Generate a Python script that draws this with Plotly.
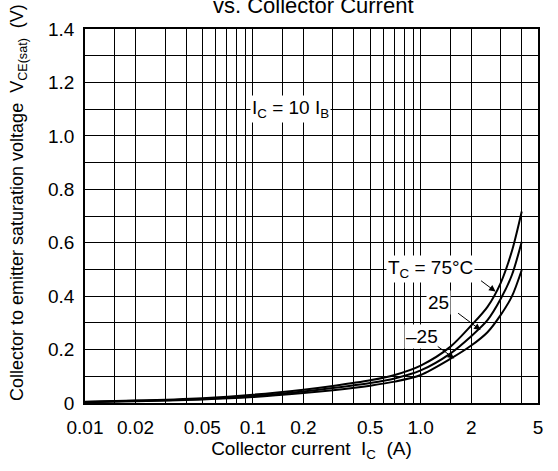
import plotly.graph_objects as go

# Collector current (A)
current = [0.01, 0.02, 0.05, 0.1, 0.2, 0.3, 0.5, 0.7, 1.0, 1.5, 2.0, 2.5, 3.0, 3.5, 4.0]
# VCE(sat) (V) for each case temperature
v_75 = [0.005, 0.009, 0.018, 0.031, 0.050, 0.064, 0.085, 0.105, 0.140, 0.210, 0.290, 0.360, 0.450, 0.570, 0.717]
v_25 = [0.004, 0.008, 0.015, 0.026, 0.043, 0.056, 0.075, 0.092, 0.122, 0.185, 0.250, 0.310, 0.390, 0.480, 0.604]
v_m25 = [0.003, 0.007, 0.013, 0.022, 0.037, 0.048, 0.065, 0.080, 0.105, 0.165, 0.215, 0.265, 0.330, 0.400, 0.498]

x_grid = [0.01, 0.015, 0.02, 0.03, 0.04, 0.05, 0.06, 0.07, 0.08, 0.09,
          0.1, 0.15, 0.2, 0.3, 0.4, 0.5, 0.6, 0.7, 0.8, 0.9,
          1.0, 1.5, 2, 3, 4, 5]
x_labels = {0.01: "0.01", 0.02: "0.02", 0.05: "0.05", 0.1: "0.1", 0.2: "0.2",
            0.5: "0.5", 1.0: "1.0", 2: "2", 5: "5"}
y_grid = [0, 0.1, 0.2, 0.3, 0.4, 0.5, 0.6, 0.7, 0.8, 0.9, 1.0, 1.1, 1.2, 1.3, 1.4]
y_labels = {0: "0", 0.2: "0.2", 0.4: "0.4", 0.6: "0.6", 0.8: "0.8", 1.0: "1.0", 1.2: "1.2", 1.4: "1.4"}

FONT = "Liberation Sans, Arial, sans-serif"
FS = 19

fig = go.Figure()
for ys in (v_75, v_25, v_m25):
    fig.add_trace(go.Scatter(x=current, y=ys, mode="lines",
                             line=dict(color="black", width=2, shape="spline", smoothing=0.8),
                             showlegend=False, hoverinfo="skip"))

fig.update_xaxes(type="log", range=[-2, 0.69897], automargin=False,
                 tickvals=x_grid, ticktext=[x_labels.get(v, "") for v in x_grid],
                 showgrid=True, gridcolor="black", gridwidth=1,
                 showline=True, linecolor="black", linewidth=1.5, mirror=True,
                 ticks="", zeroline=False, ticklabelstandoff=6,
                 title=dict(text="Collector current  I<sub>C</sub>  (A)", standoff=4,
                            font=dict(size=FS, color="black", family=FONT)),
                 tickfont=dict(size=FS, color="black", family=FONT))
fig.update_yaxes(range=[0, 1.4], automargin=False,
                 tickvals=y_grid, ticktext=[y_labels.get(v, "") for v in y_grid],
                 showgrid=True, gridcolor="black", gridwidth=1,
                 showline=True, linecolor="black", linewidth=1.5, mirror=True,
                 ticks="", zeroline=False, ticklabelstandoff=5,
                 tickfont=dict(size=FS, color="black", family=FONT))

txt = dict(size=FS, color="black", family=FONT)
annotations = [
    dict(x=-0.775, y=1.1, xref="x", yref="y", text="I<sub>C</sub> = 10 I<sub>B</sub>",
         showarrow=False, bgcolor="white", font=txt, borderpad=1),
    dict(x=0.057, y=0.5, xref="x", yref="y", text="T<sub>C</sub> = 75°C",
         showarrow=False, bgcolor="white", font=txt, borderpad=1),
    dict(x=0.108, y=0.375, xref="x", yref="y", text="25",
         showarrow=False, bgcolor="white", font=txt, borderpad=1),
    dict(x=0.009, y=0.25, xref="x", yref="y", text="\u201325",
         showarrow=False, bgcolor="white", font=txt, borderpad=1),
    # arrows
    dict(x=0.446, y=0.417, xref="x", yref="y", text="", showarrow=True,
         ax=-16, ay=-12, arrowhead=2, arrowsize=1.3, arrowwidth=1, arrowcolor="black"),
    dict(x=0.357, y=0.273, xref="x", yref="y", text="", showarrow=True,
         ax=-24, ay=-18, arrowhead=2, arrowsize=1.3, arrowwidth=1, arrowcolor="black"),
    dict(x=0.200, y=0.167, xref="x", yref="y", text="", showarrow=True,
         ax=-18, ay=-13, arrowhead=2, arrowsize=1.3, arrowwidth=1, arrowcolor="black"),
    # y-axis title
    dict(x=(18 - 85) / 453, y=(403 - 203) / 374, xref="paper", yref="paper", textangle=-90,
         text="Collector to emitter saturation voltage  V<sub>CE(sat)</sub>  (V)",
         showarrow=False, font=dict(size=18, color="black", family=FONT),
         xanchor="center", yanchor="middle"),
    # (partially visible) chart title
    dict(x=(313 - 85) / 453, y=(403 - 6) / 374, xref="paper", yref="paper", text="vs. Collector Current",
         showarrow=False, font=dict(size=22, color="black", family=FONT), xanchor="center", yanchor="middle"),
]
fig.update_layout(width=558, height=471, margin=dict(l=85, r=20, t=29, b=68),
                  plot_bgcolor="white", paper_bgcolor="white",
                  annotations=annotations, font=dict(family=FONT, color="black"))
fig.write_html("out.html", config={"displayModeBar": False},
               post_script="document.body.style.margin='0px';")
